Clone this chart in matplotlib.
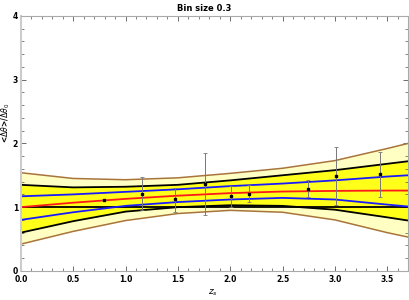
import numpy as np
import matplotlib
matplotlib.use("Agg")
import matplotlib.pyplot as plt
from matplotlib.ticker import MultipleLocator

# curve samples
zs = [0.0, 0.5, 1.0, 1.5, 2.0, 2.5, 3.0, 3.5, 3.7]
red_mid = [1.00, 1.07, 1.13, 1.18, 1.22, 1.245, 1.255, 1.26, 1.26]
blue_hi = [1.17, 1.20, 1.24, 1.28, 1.33, 1.37, 1.42, 1.48, 1.50]
blue_lo = [0.80, 0.92, 1.02, 1.08, 1.12, 1.145, 1.12, 1.04, 1.01]
black_hi = [1.35, 1.31, 1.32, 1.35, 1.42, 1.50, 1.58, 1.68, 1.72]
black_lo = [0.60, 0.78, 0.93, 1.00, 1.03, 1.02, 0.96, 0.84, 0.79]
brown_hi = [1.54, 1.45, 1.43, 1.46, 1.53, 1.61, 1.73, 1.92, 2.00]
brown_lo = [0.42, 0.62, 0.79, 0.90, 0.95, 0.92, 0.80, 0.60, 0.53]

# binned data
pt_x = [0.79, 1.16, 1.47, 1.76, 2.01, 2.18, 2.74, 3.01, 3.43]
pt_y = [1.11, 1.21, 1.12, 1.37, 1.18, 1.21, 1.29, 1.485, 1.52]
err_hi = [1.11, 1.47, 1.30, 1.85, 1.33, 1.34, 1.42, 1.95, 1.87]
err_lo = [1.11, 0.955, 0.93, 0.87, 1.01, 1.075, 1.155, 1.03, 1.155]

fig = plt.figure(figsize=(4.09, 3.0), dpi=100)
ax = fig.add_axes([0.051, 0.097, 0.947, 0.85])

ax.fill_between(zs, brown_lo, brown_hi, color='#FFFFC4', lw=0)
ax.fill_between(zs, black_lo, black_hi, color='#FFFF1A', lw=0)
ax.plot(zs, brown_hi, color='#A8743C', lw=1.1)
ax.plot(zs, brown_lo, color='#A8743C', lw=1.1)
ax.plot(zs, black_hi, color='black', lw=1.3)
ax.plot(zs, black_lo, color='black', lw=1.3)
ax.plot([0, 3.7], [1, 1], color='black', lw=1.3)
ax.plot(zs, blue_hi, color='#1A1AFF', lw=1.3)
ax.plot(zs, blue_lo, color='#1A1AFF', lw=1.3)
ax.plot(zs, red_mid, color='#FF1A1A', lw=1.3)

pt_y = np.array(pt_y)
yerr = [pt_y - np.array(err_lo), np.array(err_hi) - pt_y]
ax.errorbar(pt_x, pt_y, yerr=yerr, fmt='s', ms=1.6, color='black',
            ecolor='#777777', elinewidth=0.7, capsize=1.3, capthick=0.6)

ax.set_xlim(0, 3.7)
ax.set_ylim(0, 4)
ax.xaxis.set_major_locator(MultipleLocator(0.5))
ax.xaxis.set_minor_locator(MultipleLocator(0.1))
ax.yaxis.set_major_locator(MultipleLocator(1))
ax.yaxis.set_minor_locator(MultipleLocator(0.2))
ax.xaxis.set_major_formatter(matplotlib.ticker.FormatStrFormatter('%.1f'))
ax.tick_params(which='both', direction='in', top=True, right=True,
               color='#555555', labelsize=5.5)
ax.tick_params(axis='x', pad=3)
ax.tick_params(axis='y', pad=2)
ax.tick_params(which='major', length=3.5, width=0.6)
ax.tick_params(which='minor', length=2, width=0.5)
for lab in ax.get_xticklabels() + ax.get_yticklabels():
    lab.set_fontweight('bold')
for s in ax.spines.values():
    s.set_color('#AAAAAA')
    s.set_linewidth(0.8)
ax.spines['left'].set_linewidth(1.5)
ax.spines['left'].set_color('#CCCCCC')

fig.text(0.5, 0.972, 'Bin size 0.3', ha='center', va='center',
         fontsize=6, fontweight='bold')
fig.text(0.52, 0.025, r'$z_s$', ha='center', va='center', fontsize=6.5)
fig.text(0.014, 0.59, r'<$\Delta\theta$>/$\Delta\theta_0$', ha='center',
         va='center', rotation=90, fontsize=5.5, fontweight='bold')

fig.savefig('out.png', dpi=100)
